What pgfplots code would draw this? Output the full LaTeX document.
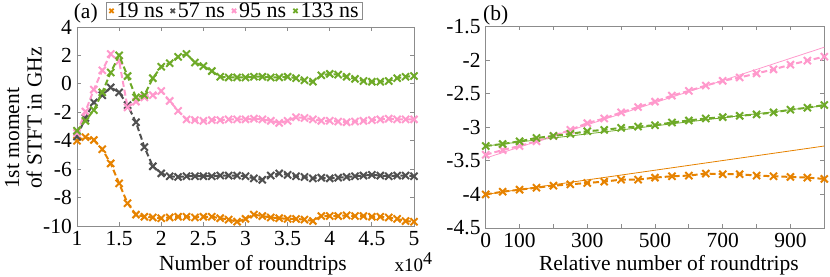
\documentclass[border=0pt]{standalone}
\usepackage{fontspec}
\setmainfont{Liberation Serif}
\usepackage{pgfplots}
\pgfplotsset{compat=1.18}
\definecolor{corange}{RGB}{230,130,0}
\definecolor{cgray}{RGB}{80,80,80}
\definecolor{cpink}{RGB}{255,153,204}
\definecolor{cgreen}{RGB}{110,170,40}
\definecolor{cframe}{RGB}{140,140,140}
\pgfplotsset{
  every axis/.append style={
    scale only axis,
    clip mode=individual,
    font=\fontsize{21.5}{22.5}\selectfont,
    /pgf/number format/assume math mode=true,
    axis line style={cframe, line width=0.8pt},
    tick style={cframe, line width=0.8pt},
    tick align=inside,
    major tick length=4pt,
    tick pos=both,
    xticklabel style={inner sep=0pt, yshift=-5pt},
    yticklabel style={inner sep=0pt, xshift=-5pt},
  },
  dat/.style={line width=2pt, dash pattern=on 6pt off 3pt, mark=x, mark size=5pt,
    mark options={solid, line width=2pt}},
  fit/.style={line width=0.8pt, no marks},
}
\begin{document}
\begin{tikzpicture}
\path[use as bounding box] (0,0) rectangle (830pt,276pt);
\begin{axis}[
  at={(77pt,50pt)}, anchor=south west,
  width=337pt, height=199pt,
  xmin=1, xmax=5, ymin=-10, ymax=4,
  xtick={1,1.5,...,5}, ytick={-10,-8,...,4},
  xlabel={Number of roundtrips},
  xlabel style={at={(axis description cs:0.522,-0.222)}, anchor=base, inner sep=0pt},
  ylabel={1st moment\\of STFT in GHz},
  ylabel style={at={(axis description cs:-0.104,0.542)}, anchor=south, align=left, inner sep=0pt},
  legend columns=4,
  legend style={draw=cframe, line width=0.8pt, font=\fontsize{22}{23}\selectfont,
    at={(axis description cs:0.086,1.126)}, anchor=north west,
    inner xsep=3pt, inner ysep=0.5pt, nodes={inner xsep=1pt, inner ysep=0pt},
    /tikz/every odd column/.append style={column sep=2pt},
    /tikz/every even column/.append style={column sep=6pt}},
  legend image code/.code={\draw[#1, mark size=3pt, mark options={solid, line width=1.8pt}] plot coordinates {(0pt,0pt)};},
]
\addplot[dat, corange] coordinates {
(1.0,-4.0) (1.1,-3.75) (1.2,-3.95) (1.3,-4.6) (1.4,-5.6) (1.5,-7.0) (1.6,-8.4) (1.7,-9.2)
(1.8,-9.35) (1.9,-9.4) (2.0,-9.45) (2.1,-9.4) (2.2,-9.35) (2.3,-9.35) (2.4,-9.4) (2.5,-9.35)
(2.6,-9.35) (2.7,-9.45) (2.8,-9.55) (2.9,-9.7) (3.0,-9.5) (3.1,-9.2) (3.2,-9.3) (3.3,-9.4)
(3.4,-9.45) (3.5,-9.5) (3.6,-9.5) (3.7,-9.55) (3.8,-9.65) (3.9,-9.3) (4.0,-9.3) (4.1,-9.3)
(4.2,-9.25) (4.3,-9.3) (4.4,-9.3) (4.5,-9.35) (4.6,-9.35) (4.7,-9.4) (4.8,-9.5) (4.9,-9.65) (5.0,-9.7)};
\addlegendentry{19 ns}
\addplot[dat, cgray] coordinates {
(1.0,-3.7) (1.1,-2.4) (1.2,-1.3) (1.3,-0.8) (1.4,-0.25) (1.5,-0.6) (1.6,-1.5) (1.7,-2.7)
(1.8,-4.45) (1.9,-5.8) (2.0,-6.3) (2.1,-6.5) (2.2,-6.55) (2.3,-6.5) (2.4,-6.5) (2.5,-6.5)
(2.6,-6.5) (2.7,-6.45) (2.8,-6.45) (2.9,-6.45) (3.0,-6.5) (3.1,-6.65) (3.2,-6.75) (3.3,-6.45)
(3.4,-6.3) (3.5,-6.4) (3.6,-6.5) (3.7,-6.55) (3.8,-6.65) (3.9,-6.6) (4.0,-6.65) (4.1,-6.6)
(4.2,-6.55) (4.3,-6.5) (4.4,-6.45) (4.5,-6.4) (4.6,-6.45) (4.7,-6.5) (4.8,-6.45) (4.9,-6.45) (5.0,-6.5)};
\addlegendentry{57 ns}
\addplot[dat, cpink] coordinates {
(1.0,-3.45) (1.1,-1.95) (1.2,-0.4) (1.3,0.95) (1.4,2.1) (1.5,1.6) (1.6,-1.65) (1.7,-1.25)
(1.8,-0.95) (1.9,-0.8) (2.0,-0.5) (2.1,-1.2) (2.2,-1.9) (2.3,-2.5) (2.4,-2.55) (2.5,-2.6)
(2.6,-2.55) (2.7,-2.55) (2.8,-2.5) (2.9,-2.5) (3.0,-2.5) (3.1,-2.45) (3.2,-2.5) (3.3,-2.6)
(3.4,-2.75) (3.5,-2.6) (3.6,-2.35) (3.7,-2.4) (3.8,-2.5) (3.9,-2.6) (4.0,-2.6) (4.1,-2.65)
(4.2,-2.7) (4.3,-2.65) (4.4,-2.6) (4.5,-2.55) (4.6,-2.5) (4.7,-2.45) (4.8,-2.5) (4.9,-2.5) (5.0,-2.5)};
\addlegendentry{95 ns}
\addplot[dat, cgreen] coordinates {
(1.0,-3.3) (1.1,-2.6) (1.2,-1.85) (1.3,-0.6) (1.4,0.8) (1.5,2.0) (1.6,0.55) (1.7,-0.95)
(1.8,-0.8) (1.9,0.4) (2.0,1.2) (2.1,1.45) (2.2,1.9) (2.3,2.1) (2.4,1.5) (2.5,1.25)
(2.6,0.9) (2.7,0.5) (2.8,0.45) (2.9,0.45) (3.0,0.45) (3.1,0.5) (3.2,0.5) (3.3,0.45)
(3.4,0.45) (3.5,0.5) (3.6,0.4) (3.7,0.25) (3.8,0.15) (3.9,0.6) (4.0,0.7) (4.1,0.65)
(4.2,0.5) (4.3,0.35) (4.4,0.2) (4.5,0.15) (4.6,0.15) (4.7,0.2) (4.8,0.4) (4.9,0.5) (5.0,0.55)};
\addlegendentry{133 ns}
\node[anchor=base east, inner sep=0pt] at (axis description cs:0.062,1.043) {(a)};
\node[anchor=base west, inner sep=0pt, font=\fontsize{19}{20}\selectfont] at (axis description cs:0.942,-0.231) {x10\raisebox{7pt}{\fontsize{18}{19}\selectfont 4}};
\end{axis}
\begin{axis}[
  at={(485.7pt,48pt)}, anchor=south west,
  width=338.6pt, height=201.6pt,
  xmin=0, xmax=1000, ymin=-4.5, ymax=-1.5,
  xtick={0,100,...,1000}, xticklabels={0,100,,300,,500,,700,,900,},
  ytick={-4.5,-4,...,-1.5},
  xlabel={Relative number of roundtrips},
  xlabel style={at={(axis description cs:0.541,-0.213)}, anchor=base, inner sep=0pt},
]
\addplot[fit, corange] coordinates {(0,-4.0) (1000,-3.28)};
\addplot[fit, cpink] coordinates {(0,-3.46) (1000,-1.81)};
\addplot[fit, cgreen] coordinates {(0,-3.28) (1000,-2.68)};
\addplot[dat, corange] coordinates {
(0,-4.0) (50,-3.96) (100,-3.93) (150,-3.90) (200,-3.87) (250,-3.85) (300,-3.83) (350,-3.81)
(400,-3.78) (450,-3.78) (500,-3.75) (550,-3.73) (600,-3.72) (650,-3.69) (700,-3.70) (750,-3.70)
(800,-3.72) (850,-3.73) (900,-3.74) (950,-3.75) (1000,-3.77)};
\addplot[dat, cpink] coordinates {
(0,-3.41) (50,-3.34) (100,-3.28) (150,-3.21) (200,-3.13) (250,-3.04) (300,-2.94) (350,-2.87)
(400,-2.78) (450,-2.70) (500,-2.62) (550,-2.53) (600,-2.46) (650,-2.38) (700,-2.31) (750,-2.26)
(800,-2.20) (850,-2.14) (900,-2.07) (950,-2.01) (1000,-1.95)};
\addplot[dat, cgreen] coordinates {
(0,-3.28) (50,-3.25) (100,-3.21) (150,-3.16) (200,-3.13) (250,-3.10) (300,-3.06) (350,-3.04)
(400,-3.01) (450,-2.99) (500,-2.97) (550,-2.93) (600,-2.90) (650,-2.87) (700,-2.85) (750,-2.83)
(800,-2.81) (850,-2.78) (900,-2.74) (950,-2.71) (1000,-2.67)};
\node[anchor=base west, inner sep=0pt] at (axis description cs:-0.008,1.03) {(b)};
\end{axis}
\end{tikzpicture}
\end{document}
